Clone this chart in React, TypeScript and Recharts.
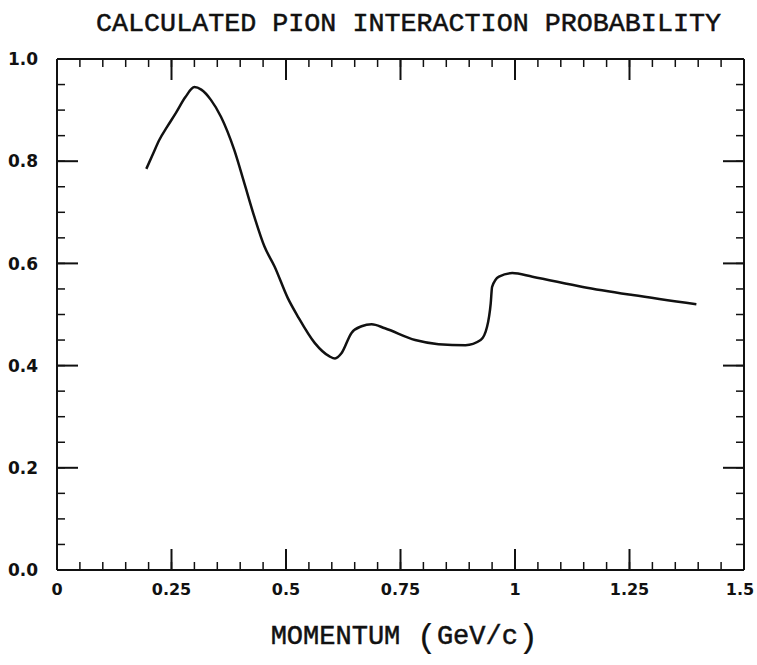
import { LineChart, Line, XAxis, YAxis, Label } from "recharts";

// momentum (GeV/c) and calculated interaction probability
const momentum = [
  0.195, 0.21, 0.223, 0.241, 0.26, 0.28, 0.3, 0.315, 0.336, 0.358, 0.387, 0.409,
  0.431, 0.453, 0.475, 0.504, 0.526, 0.563, 0.595, 0.607, 0.621, 0.643, 0.665,
  0.687, 0.716, 0.782, 0.833, 0.892, 0.925, 0.939, 0.947, 0.95, 0.965, 0.994,
  1.038, 1.148, 1.257, 1.396,
];
const probability = [
  0.785, 0.815, 0.841, 0.868, 0.895, 0.925, 0.945, 0.94, 0.92, 0.887, 0.822, 0.757,
  0.691, 0.633, 0.594, 0.532, 0.496, 0.444, 0.418, 0.414, 0.424, 0.464, 0.477,
  0.481, 0.473, 0.45, 0.442, 0.44, 0.45, 0.476, 0.522, 0.554, 0.574, 0.581,
  0.574, 0.554, 0.538, 0.52,
];

const xMajorTicks = [0, 0.25, 0.5, 0.75, 1, 1.25, 1.5];
const yMajorTicks = [0, 0.2, 0.4, 0.6, 0.8, 1.0];
const xMinorTicks = Array.from({ length: 31 }, (_, i) => +(i * 0.05).toFixed(2));
const yMinorTicks = Array.from({ length: 21 }, (_, i) => +(i * 0.05).toFixed(2));

const data = momentum.map((m, i) => ({ m, p: probability[i] }));

const INK = "#111";

// tick marks only, no label
const NoLabel = () => <g />;

function XTick(props: any) {
  const { x, y, payload } = props;
  const v = payload.value as number;
  // last label sits on the frame corner; nudge it in so it stays on the page
  const dx = v === 1.5 ? -4 : 0;
  return (
    <text
      x={x + dx}
      y={y}
      dy="0.71em"
      textAnchor="middle"
      fontFamily="'DejaVu Sans', sans-serif"
      fontWeight={700}
      fontSize={16}
      fill={INK}
    >
      {String(v)}
    </text>
  );
}

function YTick(props: any) {
  const { x, y, payload } = props;
  return (
    <text
      x={x}
      y={y}
      dy="0.36em"
      textAnchor="end"
      fontFamily="'DejaVu Sans', sans-serif"
      fontWeight={700}
      fontSize={17}
      fill={INK}
    >
      {(payload.value as number).toFixed(1)}
    </text>
  );
}

function Title(props: any) {
  const { viewBox } = props;
  const cx = viewBox.x + viewBox.width / 2;
  return (
    <text
      x={cx + 8}
      y={31}
      textAnchor="middle"
      textLength={625}
      lengthAdjust="spacingAndGlyphs"
      fontFamily="'Liberation Mono', monospace"
      fontSize={26}
      stroke={INK}
      strokeWidth={0.5}
      fill={INK}
    >
      CALCULATED PION INTERACTION PROBABILITY
    </text>
  );
}

function XTitle(props: any) {
  const { viewBox } = props;
  const cx = viewBox.x + viewBox.width / 2;
  return (
    <text
      x={cx + 4}
      y={644}
      textAnchor="middle"
      fontFamily="'Liberation Mono', monospace"
      fontSize={27}
      stroke={INK}
      strokeWidth={0.5}
      fill={INK}
    >
      MOMENTUM <tspan fontSize={34} dy={3} strokeWidth={0.2}>(</tspan>
      <tspan dy={-3}>GeV/c</tspan>
      <tspan fontSize={34} dy={3} strokeWidth={0.2}>)</tspan>
    </text>
  );
}

export default function App() {
  const dom: [number, number] = [0, 1.5];
  const ydom: [number, number] = [0, 1];
  const major = { stroke: INK, strokeWidth: 2 };
  const minor = { stroke: INK, strokeWidth: 1.5 };
  // shared props for the tick-only frame axes
  const xFrame = { dataKey: "m", type: "number" as const, domain: dom, allowDataOverflow: true, interval: 0, mirror: true, height: 1, tick: NoLabel };
  const yFrame = { dataKey: "p", type: "number" as const, domain: ydom, allowDataOverflow: true, interval: 0, mirror: true, width: 1, tick: NoLabel };
  return (
    <div style={{ position: "absolute", left: 0, top: 0, background: "#fff" }}>
      <LineChart
        width={757}
        height={665}
        data={data}
        margin={{ top: 59, right: 13, bottom: 65, left: 0 }}
      >
        {/* labelled bottom axis + frame */}
        <XAxis
          xAxisId="main"
          dataKey="m"
          type="number"
          domain={dom}
          allowDataOverflow
          ticks={xMajorTicks}
          interval={0}
          tickLine={false}
          tickSize={0}
          tickMargin={14}
          height={30}
          axisLine={major}
          tick={<XTick />}
        >
          <Label content={<XTitle />} />
        </XAxis>
        <XAxis xAxisId="bMaj" {...xFrame} ticks={xMajorTicks} tickSize={21} axisLine={false} tickLine={major} />
        <XAxis xAxisId="bMin" {...xFrame} ticks={xMinorTicks} tickSize={7} axisLine={false} tickLine={minor} />
        <XAxis xAxisId="tMaj" {...xFrame} orientation="top" ticks={xMajorTicks} tickSize={21} axisLine={major} tickLine={major}>
          <Label content={<Title />} />
        </XAxis>
        <XAxis xAxisId="tMin" {...xFrame} orientation="top" ticks={xMinorTicks} tickSize={7} axisLine={false} tickLine={minor} />

        {/* labelled left axis + frame */}
        <YAxis
          yAxisId="main"
          type="number"
          domain={ydom}
          allowDataOverflow
          ticks={yMajorTicks}
          interval={0}
          tickLine={false}
          tickSize={0}
          tickMargin={19}
          width={57}
          axisLine={major}
          tick={<YTick />}
        />
        <YAxis yAxisId="lMaj" {...yFrame} ticks={yMajorTicks} tickSize={21} axisLine={false} tickLine={major} />
        <YAxis yAxisId="lMin" {...yFrame} ticks={yMinorTicks} tickSize={7} axisLine={false} tickLine={minor} />
        <YAxis yAxisId="rMaj" {...yFrame} orientation="right" ticks={yMajorTicks} tickSize={21} axisLine={major} tickLine={major} />
        <YAxis yAxisId="rMin" {...yFrame} orientation="right" ticks={yMinorTicks} tickSize={7} axisLine={false} tickLine={minor} />

        <Line
          xAxisId="main"
          yAxisId="main"
          dataKey="p"
          type="monotone"
          stroke={INK}
          strokeWidth={2.5}
          dot={false}
          isAnimationActive={false}
        />
      </LineChart>
    </div>
  );
}
